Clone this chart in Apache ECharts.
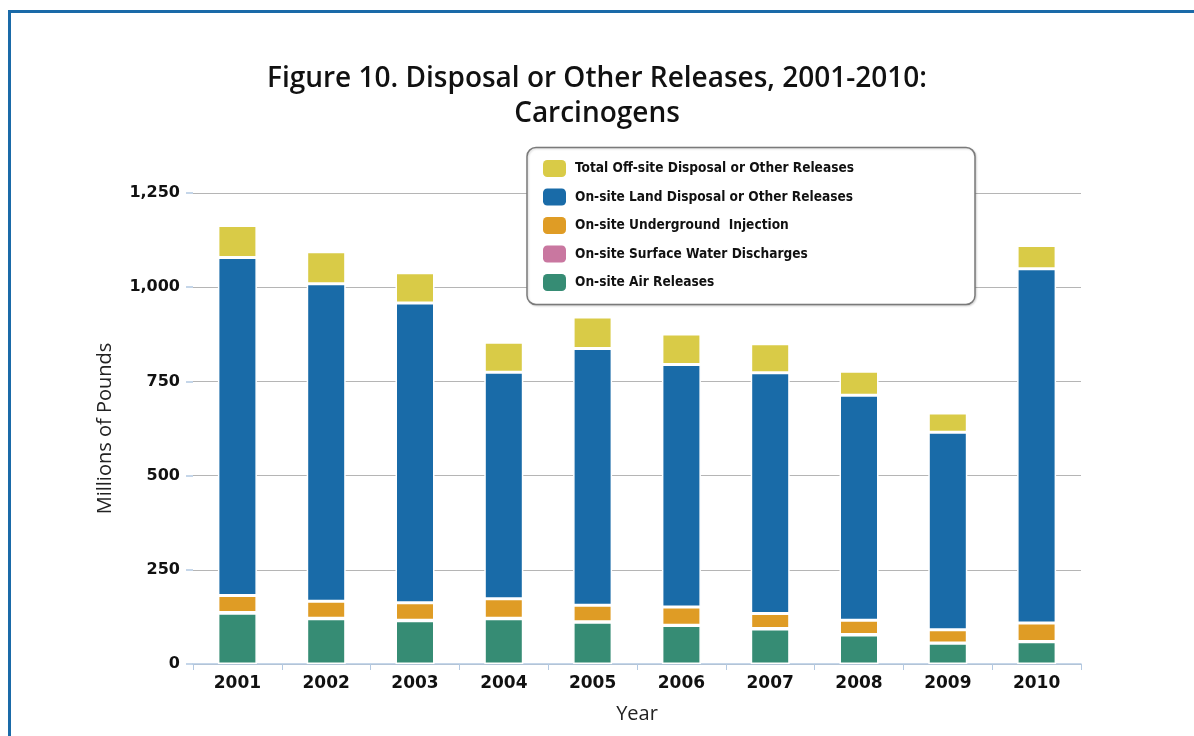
<!DOCTYPE html>
<html>
<head>
<meta charset="utf-8">
<script src="https://cdn.jsdelivr.net/npm/echarts@6/dist/echarts.min.js"></script>
<style>
html,body{margin:0;padding:0;background:#fff;}
#chart{width:1194px;height:736px;}
</style>
</head>
<body>
<div id="chart"></div>
<script>
const years = ['2001','2002','2003','2004','2005','2006','2007','2008','2009','2010'];
const airReleases = [135, 120, 115, 120, 111, 102, 93, 77, 55, 59];
const surfaceWater = [1.5, 1.4, 1.3, 1.2, 1.2, 1.1, 1.0, 1.0, 0.9, 0.9];
const undergroundInjection = [45, 45, 46, 52, 44, 48, 40, 38, 35, 49];
const landDisposal = [897, 843, 796, 601, 681, 644, 639, 597, 524, 940];
const offSite = [85, 85, 80, 80, 84, 81, 77, 64, 51, 62];
const yTicks = [0, 250, 500, 750, 1000, 1250];

const names = {
  off: 'Total Off-site Disposal or Other Releases',
  land: 'On-site Land Disposal or Other Releases',
  ui: 'On-site Underground  Injection',
  sw: 'On-site Surface Water Discharges',
  air: 'On-site Air Releases'
};
const colors = {
  off: '#d9cb47',
  land: '#196ba8',
  ui: '#df9c25',
  sw: '#c977a0',
  air: '#368c74'
};

const chart = echarts.init(document.getElementById('chart'), null, {renderer: 'canvas'});

function barSeries(key, data) {
  return {
    name: names[key],
    type: 'bar',
    stack: 'total',
    data: data,
    barWidth: 39,
    itemStyle: {
      color: colors[key],
      borderColor: '#ffffff',
      borderWidth: 1.5
    },
    emphasis: {disabled: true}
  };
}

const option = {
  backgroundColor: '#ffffff',
  animation: false,
  title: {
    text: 'Figure 10. Disposal or Other Releases, 2001-2010:\nCarcinogens',
    left: 'center',
    top: 57,
    textStyle: {
      fontFamily: 'Open Sans',
      fontWeight: 600,
      fontSize: 28,
      lineHeight: 35,
      color: '#111'
    }
  },
  legend: {
    data: [names.off, names.land, names.ui, names.sw, names.air],
    orient: 'vertical',
    left: 543,
    top: 160,
    padding: 0,
    itemWidth: 23,
    itemHeight: 17,
    itemGap: 11.5,
    icon: 'roundRect',
    itemStyle: {borderWidth: 0},
    selectedMode: false,
    textStyle: {
      fontFamily: 'DejaVu Sans Condensed, DejaVu Sans',
      fontWeight: 'bold',
      fontSize: 13.6,
      color: '#111',
      padding: [0, 0, 0, 4]
    }
  },
  grid: {
    left: 193,
    right: 113,
    top: 193,
    bottom: 72,
    containLabel: false
  },
  xAxis: {
    type: 'category',
    data: years,
    name: 'Year',
    nameLocation: 'middle',
    nameGap: 40,
    nameTextStyle: {fontFamily: 'Open Sans', fontSize: 20, color: '#222'},
    axisLine: {show: true, lineStyle: {color: '#b3c9e2', width: 1.5}},
    axisTick: {show: true, alignWithLabel: false, length: 6, lineStyle: {color: '#b3c9e2', width: 1}},
    axisLabel: {
      margin: 11,
      fontFamily: 'DejaVu Sans',
      fontWeight: 'bold',
      fontSize: 17,
      color: '#111'
    }
  },
  yAxis: {
    type: 'value',
    min: yTicks[0],
    max: yTicks[yTicks.length - 1],
    interval: yTicks[1] - yTicks[0],
    name: 'Millions of Pounds',
    nameLocation: 'middle',
    nameGap: 78,
    nameTextStyle: {fontFamily: 'Open Sans', fontSize: 20, color: '#222'},
    axisLine: {show: false},
    axisTick: {show: true, length: 7, lineStyle: {color: '#b3c9e2', width: 1.5}},
    splitLine: {show: true, lineStyle: {color: '#b5b5b5', width: 1.2}},
    axisLabel: {
      margin: 13,
      fontFamily: 'DejaVu Sans',
      fontWeight: 'bold',
      fontSize: 16,
      color: '#111',
      formatter: function (v) { return v.toLocaleString('en-US'); }
    }
  },
  graphic: [
    {
      type: 'rect',
      z: 3,
      shape: {x: 527, y: 147.5, width: 448, height: 157, r: 9},
      style: {fill: '#ffffff', stroke: '#7a7a7a', lineWidth: 1.5,
        shadowColor: 'rgba(0,0,0,0.15)', shadowBlur: 2, shadowOffsetX: 1, shadowOffsetY: 1}
    },
    {
      type: 'line',
      z: 10,
      shape: {x1: 8, y1: 11.5, x2: 1194, y2: 11.5},
      style: {stroke: '#1a6aa8', lineWidth: 3}
    },
    {
      type: 'line',
      z: 10,
      shape: {x1: 9.5, y1: 10, x2: 9.5, y2: 736},
      style: {stroke: '#1a6aa8', lineWidth: 3}
    }
  ],
  series: [
    barSeries('air', airReleases),
    barSeries('sw', surfaceWater),
    barSeries('ui', undergroundInjection),
    barSeries('land', landDisposal),
    barSeries('off', offSite)
  ]
};

chart.setOption(option);
</script>
</body>
</html>
